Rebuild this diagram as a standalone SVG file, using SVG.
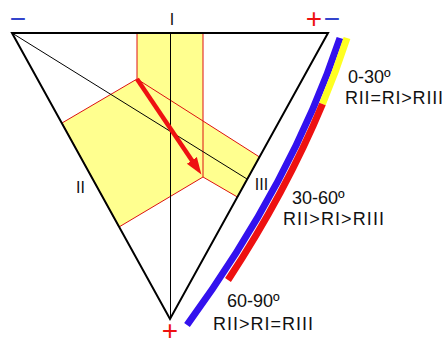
<svg xmlns="http://www.w3.org/2000/svg" width="446" height="345" viewBox="0 0 446 345">
<style>
.lbl{font-family:"Liberation Sans",Arial,sans-serif;fill:#111}
.num{font-size:16px;text-anchor:middle}
.rng{font-size:18px}
.sign{font-family:"Liberation Sans",Arial,sans-serif;font-size:28px;text-anchor:middle}
.edge{fill:none;stroke:#000;stroke-width:2;stroke-linejoin:miter}
.thin{fill:none;stroke:#000;stroke-width:1}
.band{fill:#ffff8f;stroke:#dd1111;stroke-width:1}
.bline{fill:none;stroke:#dd1111;stroke-width:1}
.bar{fill:none;stroke-width:7;stroke-linecap:butt}
</style>
<defs>
<marker id="head" markerUnits="userSpaceOnUse" markerWidth="18" markerHeight="14" refX="2" refY="7" orient="auto">
<path d="M0,1 L17,7 L0,13 Z" fill="#ee1111"/>
</marker>
</defs>
<rect width="446" height="345" fill="#fff"/>
<g id="stress-field">
<polygon class="band" points="137,33 203,33 203,121 259.5,157 237.4,197 203,177 119,227 62,123 137,79"/>
<path class="bline" d="M137,79 L203,121 M203,121 L203,177"/>
</g>
<g id="triangle">
<polygon class="edge" points="12,33 328,33 170,319"/>
<line class="thin" x1="170.5" y1="33" x2="170.5" y2="319"/>
<line class="thin" x1="12" y1="33" x2="247" y2="179" stroke="#333"/>
</g>
<g id="arrow">
<line x1="137" y1="79" x2="193" y2="162" stroke="#ee1111" stroke-width="4.5" marker-end="url(#head)"/>
</g>
<g id="bars">
<path class="bar" stroke="#3311ee" d="M340,38 Q292.5,180.5 187,325"/>
<path class="bar" stroke="#ffff22" d="M347,38 Q336.3,71 322.5,104"/>
<path class="bar" stroke="#ee1111" d="M322.5,104 Q285.9,192 228,280"/>
</g>
<g id="labels">
<text class="lbl num" x="172" y="25">I</text>
<text class="lbl num" x="80.5" y="193">II</text>
<text class="lbl num" x="261.5" y="190">III</text>
<text class="lbl rng" x="348" y="83">0-30º</text>
<text class="lbl rng" x="345" y="104" textLength="98" lengthAdjust="spacing">RII=RI&gt;RIII</text>
<text class="lbl rng" x="292" y="204">30-60º</text>
<text class="lbl rng" x="283" y="225" textLength="101" lengthAdjust="spacing">RII&gt;RI&gt;RIII</text>
<text class="lbl rng" x="227" y="307">60-90º</text>
<text class="lbl rng" x="213" y="330" textLength="100" lengthAdjust="spacing">RII&gt;RI=RIII</text>
</g>
<g id="signs">
<text class="sign" x="18" y="28" fill="#3344cc">−</text>
<text class="sign" x="314" y="28" fill="#ee1111">+</text>
<text class="sign" x="332" y="28" fill="#3344cc">−</text>
<text class="sign" x="170" y="340" fill="#ee1111" font-size="22">+</text>
</g>
</svg>
